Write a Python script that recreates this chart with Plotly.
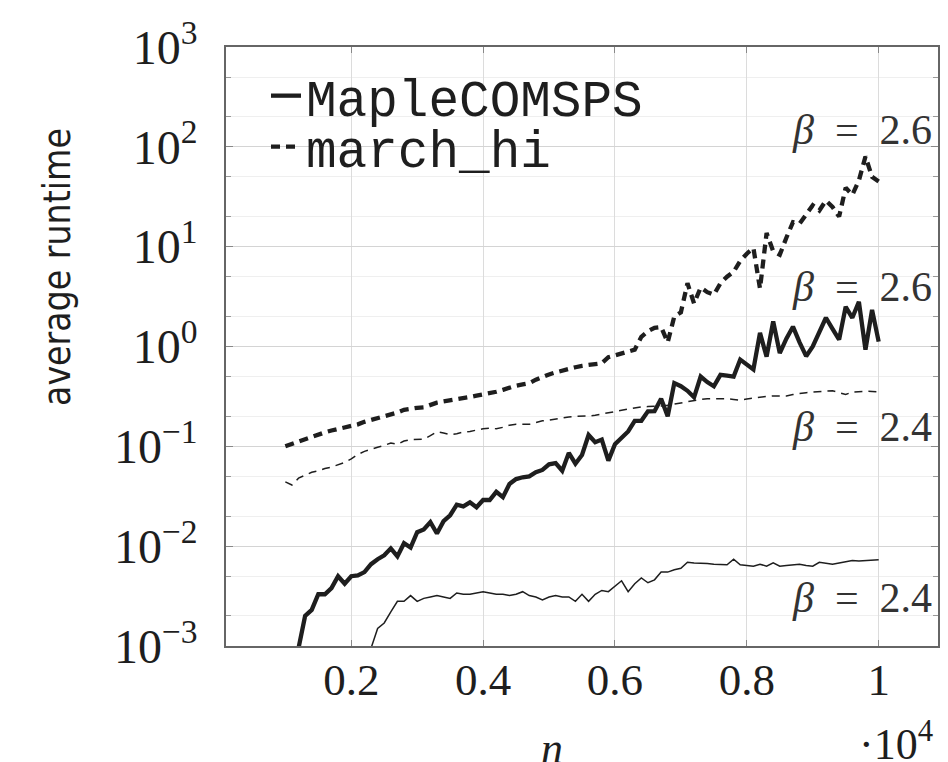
import plotly.graph_objects as go

# n (in units of 10^4)
n = [round(0.10 + 0.01 * i, 2) for i in range(91)]

# march_hi, beta = 2.6
march_26 = [0.100, 0.106, 0.112, 0.116, 0.124, 0.133, 0.138, 0.144, 0.149, 0.155,
            0.160, 0.166, 0.176, 0.183, 0.190, 0.198, 0.207, 0.218, 0.232, 0.240,
            0.243, 0.246, 0.260, 0.274, 0.282, 0.288, 0.295, 0.305, 0.312, 0.322,
            0.330, 0.342, 0.352, 0.368, 0.388, 0.405, 0.418, 0.430, 0.465, 0.500,
            0.525, 0.550, 0.575, 0.600, 0.620, 0.640, 0.650, 0.660, 0.680, 0.780,
            0.820, 0.860, 0.900, 0.930, 1.25, 1.42, 1.54, 1.57, 1.10, 2.00,
            2.20, 4.30, 2.70, 3.90, 3.50, 3.30, 4.30, 5.00, 5.60, 7.20,
            8.50, 9.70, 3.80, 13.7, 9.00, 8.30, 12.3, 17.6, 17.0, 21.0,
            26.0, 23.0, 29.0, 25.0, 20.0, 39.0, 33.0, 46.0, 80.0, 50.0,
            45.0]

# march_hi, beta = 2.4
march_24 = [0.044, 0.041, 0.048, 0.051, 0.055, 0.057, 0.060, 0.062, 0.066, 0.069,
            0.075, 0.083, 0.089, 0.094, 0.098, 0.102, 0.108, 0.105, 0.113, 0.117,
            0.117, 0.118, 0.128, 0.140, 0.136, 0.131, 0.134, 0.139, 0.141, 0.146,
            0.150, 0.152, 0.150, 0.155, 0.163, 0.166, 0.165, 0.166, 0.173, 0.180,
            0.183, 0.188, 0.192, 0.197, 0.200, 0.200, 0.201, 0.205, 0.212, 0.218,
            0.223, 0.230, 0.236, 0.243, 0.248, 0.250, 0.251, 0.254, 0.258, 0.265,
            0.274, 0.282, 0.290, 0.295, 0.300, 0.300, 0.301, 0.300, 0.295, 0.290,
            0.298, 0.305, 0.310, 0.316, 0.320, 0.319, 0.320, 0.330, 0.340, 0.345,
            0.350, 0.355, 0.358, 0.360, 0.345, 0.330, 0.350, 0.356, 0.356, 0.355,
            0.352]

# MapleCOMSPS, beta = 2.6
maple_26 = [0.0003, 0.0006, 0.00095, 0.0020, 0.0023, 0.0033, 0.0033, 0.0038, 0.0050, 0.0042,
            0.0050, 0.0051, 0.0055, 0.0066, 0.0074, 0.0081, 0.0095, 0.0079, 0.0107, 0.0097,
            0.0138, 0.0147, 0.0174, 0.0134, 0.0178, 0.0204, 0.026, 0.025, 0.0275, 0.0245,
            0.029, 0.029, 0.035, 0.031, 0.042, 0.047, 0.049, 0.050, 0.055, 0.058,
            0.066, 0.068, 0.057, 0.086, 0.067, 0.082, 0.130, 0.110, 0.117, 0.072,
            0.105, 0.122, 0.141, 0.180, 0.180, 0.224, 0.225, 0.300, 0.200, 0.430,
            0.400, 0.360, 0.310, 0.500, 0.440, 0.400, 0.520, 0.510, 0.500, 0.740,
            0.660, 0.590, 1.37, 0.79, 1.78, 0.86, 1.20, 1.58, 1.10, 0.80,
            1.00, 1.40, 1.94, 1.50, 1.17, 2.50, 1.94, 2.80, 0.93, 2.33,
            1.12]

# MapleCOMSPS, beta = 2.4 (starts at n = 0.22)
n_maple_24 = n[12:]
maple_24 = [0.0005, 0.00095, 0.0015, 0.0017, 0.0022, 0.0028, 0.0028, 0.0032,
            0.0028, 0.0030, 0.0031, 0.0032, 0.0031, 0.0030, 0.0034, 0.0033, 0.0033, 0.0034,
            0.0035, 0.0034, 0.0033, 0.0033, 0.0032, 0.0033, 0.0035, 0.0032, 0.0031, 0.0029,
            0.0031, 0.0032, 0.0031, 0.0031, 0.0028, 0.0033, 0.0028, 0.0033, 0.0036, 0.0035,
            0.0040, 0.0045, 0.0035, 0.0042, 0.0048, 0.0043, 0.0046, 0.0055, 0.0055, 0.0058,
            0.0060, 0.0069, 0.0068, 0.0068, 0.0067, 0.0066, 0.0065, 0.0065, 0.0074, 0.0065,
            0.0064, 0.0063, 0.0066, 0.0063, 0.0068, 0.0063, 0.0064, 0.0065, 0.0066, 0.0064,
            0.0063, 0.0069, 0.0067, 0.0066, 0.0068, 0.0070, 0.0072, 0.0071, 0.0072, 0.0072,
            0.0073]

x_ticks = [0.2, 0.4, 0.6, 0.8, 1.0]
x_ticktext = ["0.2", "0.4", "0.6", "0.8", "1"]
y_ticks = [1e-3, 1e-2, 1e-1, 1e0, 1e1, 1e2, 1e3]
y_ticktext = ["10<sup>−3</sup>", "10<sup>−2</sup>", "10<sup>−1</sup>", "10<sup>0</sup>",
              "10<sup>1</sup>", "10<sup>2</sup>", "10<sup>3</sup>"]
labels = [("<i>β</i>  =  2.6", 130), ("<i>β</i>  =  2.6", 287),
          ("<i>β</i>  =  2.4", 427), ("<i>β</i>  =  2.4", 598)]

INK = "#1e1e1e"
W, H = 948, 762
OFF = 8                       # page body margin of the written html
PX_L, PX_T, PW, PH = 226, 47, 712, 599   # plot area on the page
L, T = PX_L - OFF, PX_T - OFF
R, B = W - L - PW, H - T - PH


def px_x(p):
    return (p - PX_L) / PW


def px_y(p):
    return (PX_T + PH - p) / PH


fig = go.Figure()
fig.add_trace(go.Scatter(x=n, y=march_24, mode="lines", showlegend=False,
                         line=dict(color=INK, width=1.5, dash="8px,6px")))
fig.add_trace(go.Scatter(x=n_maple_24, y=maple_24, mode="lines", showlegend=False,
                         line=dict(color=INK, width=1.5)))
fig.add_trace(go.Scatter(x=n, y=maple_26, mode="lines", name="MapleCOMSPS",
                         legend="legend", line=dict(color=INK, width=4.3)))
fig.add_trace(go.Scatter(x=n, y=march_26, mode="lines", name="march_hi",
                         legend="legend2", line=dict(color=INK, width=4.3, dash="9px,6px")))

serif = "Liberation Serif"
annotations = []
for txt, ypx in labels:
    annotations.append(dict(text=txt, x=px_x(934), y=px_y(ypx), xref="paper", yref="paper",
                            xanchor="right", yanchor="middle", showarrow=False,
                            font=dict(family=serif, size=42, color="#333")))
annotations.append(dict(text="average runtime", x=px_x(57), y=px_y(267), xref="paper",
                        yref="paper", textangle=-90, xanchor="center", yanchor="middle",
                        showarrow=False,
                        font=dict(family="DejaVu Sans Condensed, Liberation Sans", size=37,
                                  color=INK)))
annotations.append(dict(text="<i>n</i>", x=px_x(552), y=px_y(722), xref="paper", yref="paper",
                        xanchor="center", yanchor="top", showarrow=False,
                        font=dict(family=serif, size=44, color=INK)))
annotations.append(dict(text="·10<sup>4</sup>", x=px_x(935), y=px_y(712), xref="paper",
                        yref="paper", xanchor="right", yanchor="top", showarrow=False,
                        font=dict(family=serif, size=44, color=INK)))

leg_font = dict(family="Liberation Mono", size=51, color=INK)
fig.update_layout(
    width=W, height=H,
    margin=dict(l=L, r=R, t=T, b=B, autoexpand=False),
    paper_bgcolor="white", plot_bgcolor="white",
    showlegend=True,
    legend=dict(x=px_x(266), y=px_y(96), xanchor="left", yanchor="middle",
                bgcolor="rgba(0,0,0,0)", font=leg_font),
    legend2=dict(x=px_x(266), y=px_y(147), xanchor="left", yanchor="middle",
                 bgcolor="rgba(0,0,0,0)", font=leg_font),
    annotations=annotations,
    xaxis=dict(range=[0.01, 1.09], tickvals=x_ticks, ticktext=x_ticktext,
               ticks="inside", ticklen=6, tickcolor="#888", mirror="ticks",
               showline=True, linecolor="#666", linewidth=1.5, automargin=False,
               showgrid=True, gridcolor="#dcdcdc", gridwidth=1.2, zeroline=False,
               tickfont=dict(family=serif, size=45, color=INK), ticklabelstandoff=-7),
    yaxis=dict(type="log", range=[-3, 3], tickvals=y_ticks, ticktext=y_ticktext,
               ticks="inside", ticklen=7, tickcolor="#888", mirror="allticks",
               showline=True, linecolor="#666", linewidth=1.5, automargin=False,
               showgrid=True, gridcolor="#d4d4d4", gridwidth=1.2, zeroline=False,
               tickfont=dict(family=serif, size=48, color=INK), ticklabelstandoff=17,
               minor=dict(ticks="inside", ticklen=5, tickcolor="#999", showgrid=True,
                          gridcolor="#efefef", gridwidth=1)),
)

fig.write_html("out.html")
